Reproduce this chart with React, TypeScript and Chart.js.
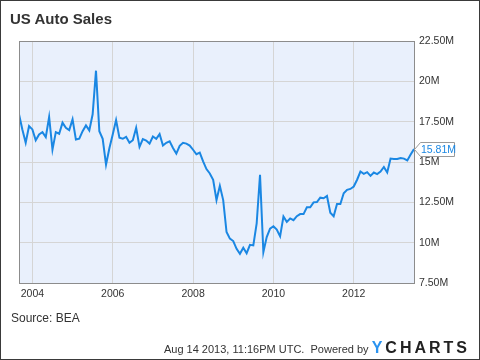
import React, { useEffect, useRef, useState } from "react";
import { Chart, registerables } from "chart.js";

Chart.register(...registerables);

// Monthly US auto sales (SAAR, millions), Sep 2003 .. Jul 2013 as plotted
const sales2003to2005: number[] = [
  17.96, 17.02, 16.19, 17.23, 17.02, 16.35, 16.71, 16.85, 16.54, 17.79,
  15.77, 16.85, 16.75, 17.44, 17.12, 16.98, 17.64, 16.39, 16.44, 16.91,
  17.27, 16.96, 17.96, 20.66, 16.91, 16.44, 14.83, 15.85, 16.71, 17.6,
];
const sales2006to2008: number[] = [
  16.5, 16.44, 16.56, 16.19, 16.35, 17.12, 15.94, 16.42, 16.33, 16.14,
  16.58, 16.44, 16.73, 16.02, 16.19, 16.28, 15.87, 15.52, 16.0, 16.19,
  16.14, 16.02, 15.76, 15.48, 15.58, 15.04, 14.56, 14.29, 13.89, 12.64,
];
const sales2009to2011: number[] = [
  13.52, 12.64, 10.66, 10.25, 10.1, 9.62, 9.31, 9.69, 9.35, 9.87,
  9.83, 11.19, 14.21, 9.41, 10.35, 10.87, 11.02, 10.81, 10.39, 11.62,
  11.29, 11.5, 11.39, 11.64, 11.77, 11.77, 12.19, 12.19, 12.5, 12.52,
];
const sales2012to2013: number[] = [
  12.79, 12.75, 12.89, 11.85, 11.64, 12.39, 12.39, 13.06, 13.27, 13.33,
  13.48, 13.9, 14.41, 14.27, 14.37, 14.14, 14.35, 14.25, 14.41, 14.69,
  14.35, 15.21, 15.19, 15.19, 15.25, 15.21, 15.1, 15.46, 15.81,
];
const salesMillions: number[] = [
  ...sales2003to2005,
  ...sales2006to2008,
  ...sales2009to2011,
  ...sales2012to2013,
];

// x tick labels and the month index (from Sep 2003) where each year starts
const xTickLabels: string[] = ["2004", "2006", "2008", "2010", "2012"];
const xTickMonthIndex: number[] = [4, 28, 52, 76, 100];

const yMin = 7.5;
const yMax = 22.5;
const yStep = 2.5;

const FONT = '"Liberation Sans", Arial, Helvetica, sans-serif';
const LINE_COLOR = "#1a87e3";

export default function App() {
  const canvasRef = useRef<HTMLCanvasElement | null>(null);
  const [labelPos, setLabelPos] = useState<{ x: number; y: number } | null>(null);
  const lastValue = salesMillions[salesMillions.length - 1];

  useEffect(() => {
    document.body.style.margin = "0";
    const canvas = canvasRef.current;
    if (!canvas) return;

    const plotFrame = {
      id: "plotFrame",
      beforeDraw(chart: any) {
        const { ctx, chartArea } = chart;
        ctx.save();
        ctx.fillStyle = "#e9f0fc";
        ctx.fillRect(chartArea.left, chartArea.top, chartArea.right - chartArea.left, chartArea.bottom - chartArea.top);
        ctx.restore();
      },
      afterDraw(chart: any) {
        const { ctx, chartArea } = chart;
        ctx.save();
        ctx.strokeStyle = "#8c8c8c";
        ctx.lineWidth = 1;
        ctx.strokeRect(
          Math.round(chartArea.left) + 0.5,
          Math.round(chartArea.top) + 0.5,
          Math.round(chartArea.right - chartArea.left),
          Math.round(chartArea.bottom - chartArea.top)
        );
        ctx.restore();
      },
    };

    const chart = new Chart(canvas, {
      type: "line",
      data: {
        datasets: [
          {
            data: salesMillions.map((v, i) => ({ x: i, y: v })),
            borderColor: LINE_COLOR,
            borderWidth: 2,
            pointRadius: 0,
            tension: 0,
            fill: false,
          },
        ],
      },
      options: {
        responsive: false,
        animation: false,
        layout: { padding: { left: 19, top: 41, right: 0, bottom: 0 } },
        plugins: {
          legend: { display: false },
          tooltip: { enabled: false },
          title: { display: false },
        },
        scales: {
          x: {
            type: "linear",
            min: 0,
            max: salesMillions.length - 1,
            afterBuildTicks: (scale: any) => {
              scale.ticks = xTickMonthIndex.map((v) => ({ value: v }));
            },
            afterFit: (scale: any) => {
              scale.height = 77;
            },
            ticks: {
              autoSkip: false,
              maxRotation: 0,
              padding: 5,
              color: "#333",
              font: { family: FONT, size: 10.5 },
              callback: (value: any) => {
                const k = xTickMonthIndex.indexOf(Number(value));
                return k >= 0 ? xTickLabels[k] : "";
              },
            },
            grid: { color: "#d5d5d5", drawTicks: false },
            border: { display: false },
          },
          y: {
            position: "right",
            min: yMin,
            max: yMax,
            afterFit: (scale: any) => {
              scale.width = 66;
            },
            ticks: {
              stepSize: yStep,
              padding: 5,
              color: "#333",
              font: { family: FONT, size: 10.5 },
              callback: (value: any) => {
                const v = Number(value);
                return (Number.isInteger(v) ? String(v) : v.toFixed(2)) + "M";
              },
            },
            grid: { color: "#d5d5d5", drawTicks: false },
            border: { display: false },
          },
        },
      },
      plugins: [plotFrame],
    } as any);

    const ys = chart.scales.y;
    setLabelPos({ x: chart.chartArea.right, y: ys.getPixelForValue(lastValue) });

    return () => chart.destroy();
  }, []);

  return (
    <div style={{ position: "relative", width: 480, height: 360, fontFamily: FONT, color: "#333", background: "#fff" }}>
      <canvas ref={canvasRef} width={480} height={360} style={{ position: "absolute", left: 0, top: 0 }} />
      <div
        style={{
          position: "absolute",
          left: 0,
          top: 0,
          width: 480,
          height: 360,
          boxSizing: "border-box",
          border: "1px solid #3a3a3a",
          pointerEvents: "none",
        }}
      />
      <div style={{ position: "absolute", left: 10, top: 10, fontSize: 15, fontWeight: "bold", color: "#333", lineHeight: "18px", whiteSpace: "nowrap" }}>
        US Auto Sales
      </div>
      <div style={{ position: "absolute", left: 11, top: 311, fontSize: 12, color: "#333", lineHeight: "14px", whiteSpace: "nowrap" }}>
        Source: BEA
      </div>
      <div style={{ position: "absolute", right: 10, top: 339, display: "flex", alignItems: "baseline", whiteSpace: "nowrap" }}>
        <span style={{ fontSize: 11, color: "#333" }}>Aug 14 2013, 11:16PM UTC.&nbsp; Powered by&nbsp;</span>
        <span style={{ fontSize: 16, fontWeight: 900, letterSpacing: 3, color: "#222" }}>
          <span style={{ color: "#2a93f0" }}>Y</span>CHARTS
        </span>
      </div>
      {labelPos && (
        <>
          <svg
            width={60}
            height={24}
            style={{ position: "absolute", left: labelPos.x - 2, top: labelPos.y - 12 }}
          >
            <path
              d={`M 2.5 12.5 L 8.5 5.5 L 42.5 5.5 L 42.5 19.5 L 8.5 19.5 Z`}
              fill="#fff"
              stroke="#9a9a9a"
              strokeWidth={1}
            />
          </svg>
          <div
            style={{
              position: "absolute",
              left: labelPos.x + 7,
              top: labelPos.y - 6,
              fontSize: 10.5,
              lineHeight: "13px",
              color: LINE_COLOR,
              whiteSpace: "nowrap",
            }}
          >
            {lastValue.toFixed(2)}M
          </div>
        </>
      )}
    </div>
  );
}
